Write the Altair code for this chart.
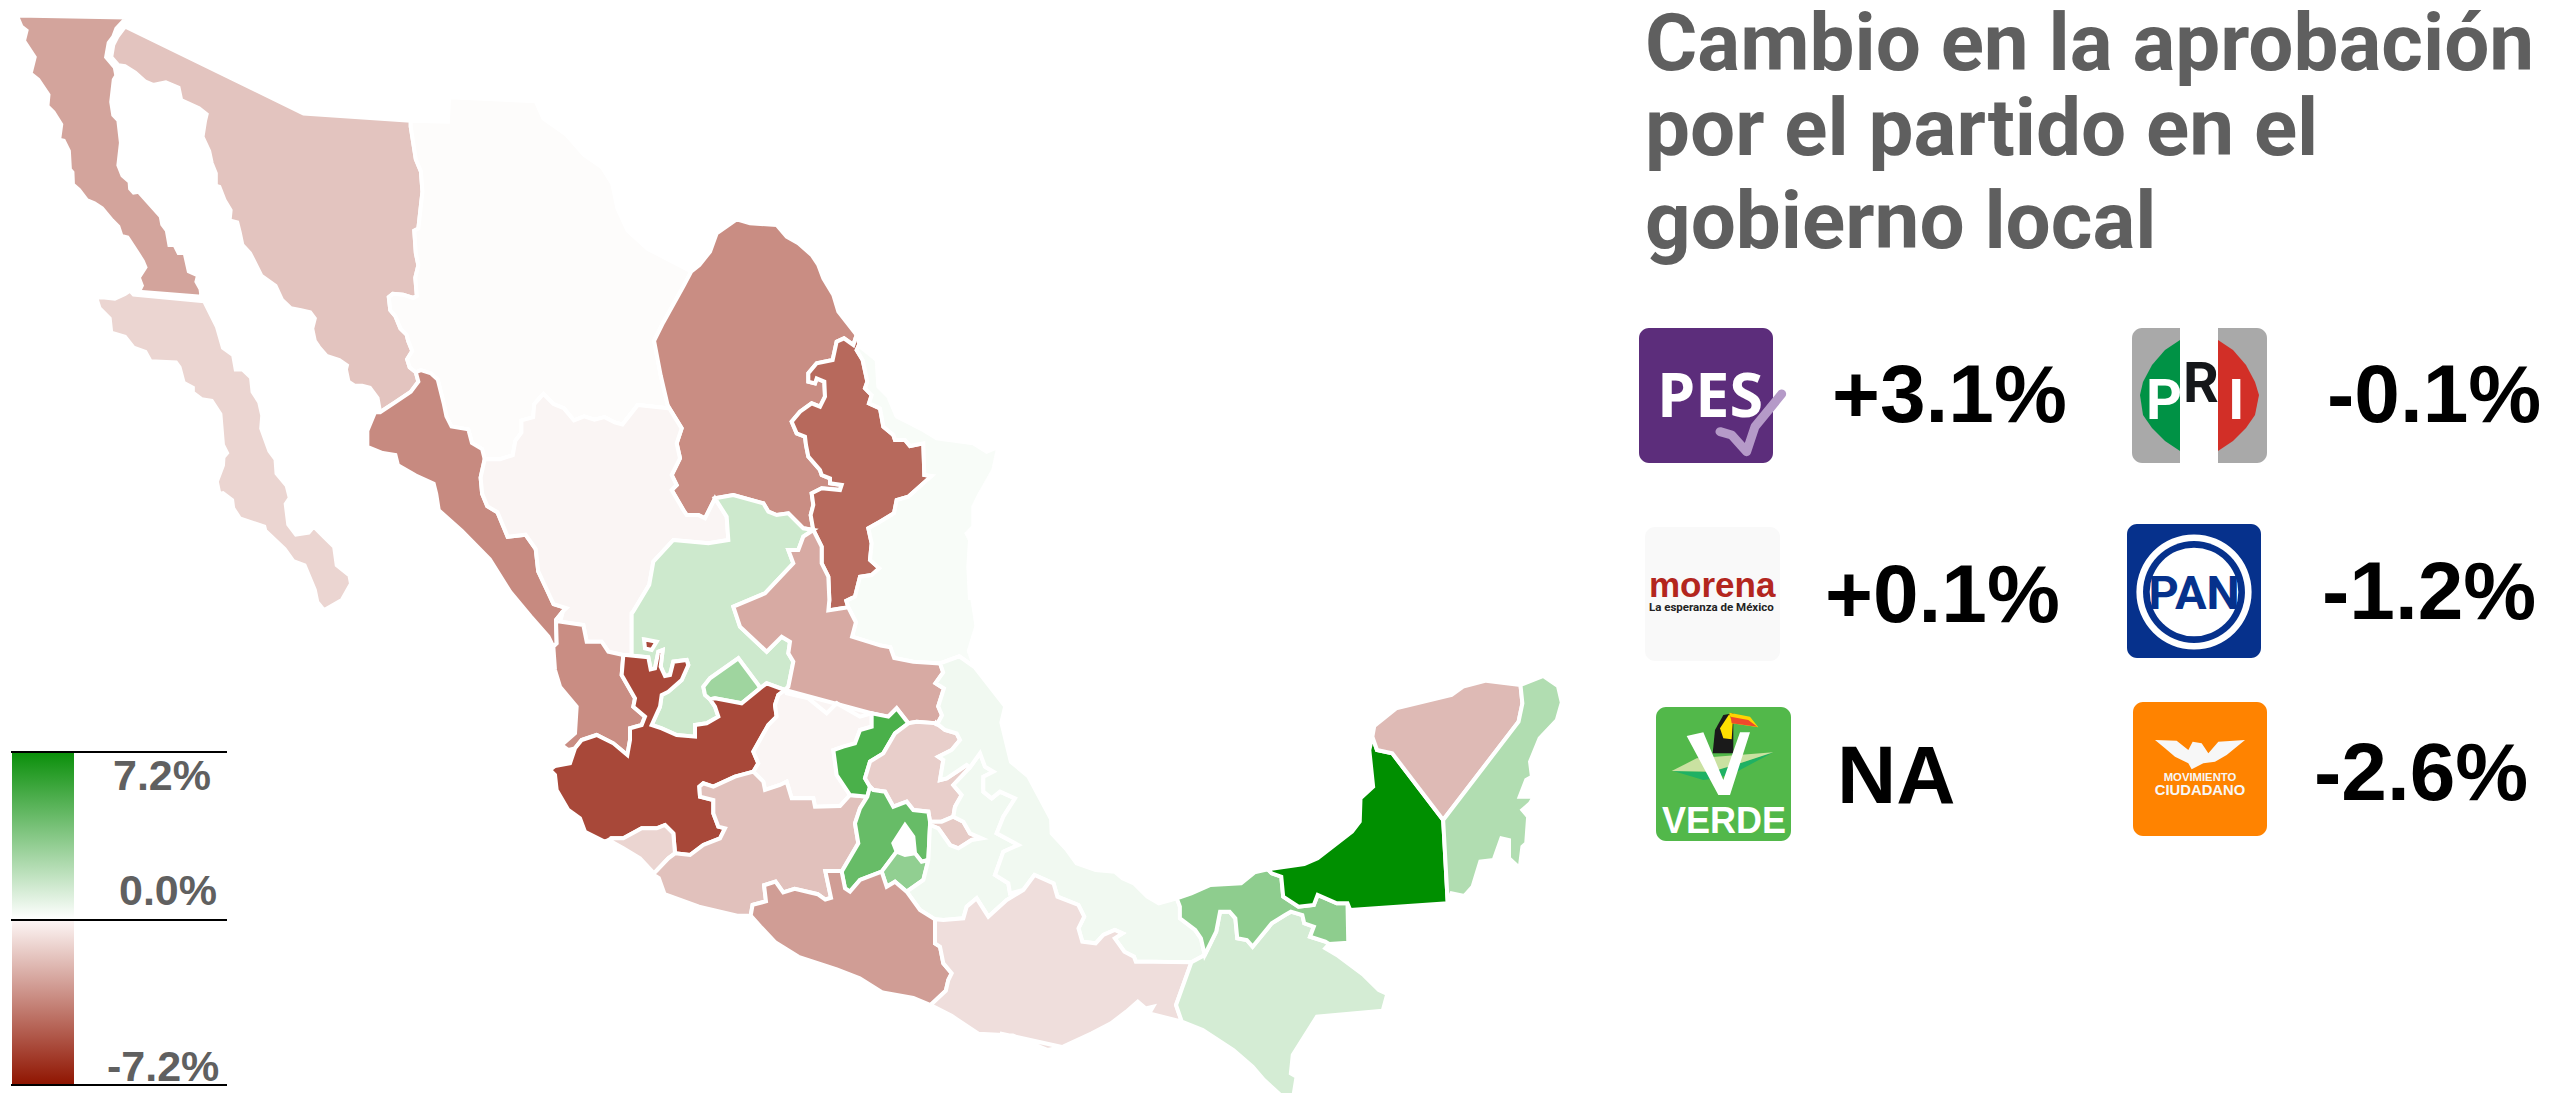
import altair as alt

def T(ox, oy, sx, sy):
    return lambda *p: [(ox + x / sx, oy + y / sy) for x, y in p]
T1 = T(0, 0, 1.96, 2.45)
T2 = T(500, 540, 2.613, 2.795)
T3 = T(1000, 640, 2.613, 3)
T7 = T(640, 200, 3, 3)
T8 = T(780, 680, 3, 3)
T9 = T(540, 600, 3, 3)
rev = lambda a: a[::-1]
def ring(*arcs):
    out = []
    for a in arcs:
        out += a
    return out + [out[0]]

# ---- shared borders between states, in reference pixels -------------------
son_chi = T1((805,296),(805,310),(815,390),(825,420),(828,470),(820,560),(812,565),(815,620),(820,650),(814,680),(817,725),(810,730),(790,722),(770,720),(762,728),(765,760),(775,775),(785,805),(797,820),(800,835),(808,860),(798,880),(803,900),(815,912))
son_sin = T1((815,912),(820,935),(805,960),(775,985),(745,1010))
chi_coa = T1((1355,665),(1340,700),(1300,790),(1282,835),(1295,920),(1310,1000))
chi_dur = T1((1310,1000),(1250,992),(1220,1040),(1205,1035),(1185,1022),(1165,1028),(1145,1020),(1125,1030),(1105,1000),(1085,990),(1065,965),(1047,990),(1045,1022),(1022,1030),(1022,1060),(1010,1080),(1005,1115),(980,1125),(950,1125))
chi_sin = T1((950,1125),(945,1100),(925,1085),(918,1052),(885,1045),(875,1020),(870,990),(858,930),(845,915),(825,907),(815,912))
chi_north = T1((805,296),(878,298),(880,238),(1050,248),(1065,290),(1110,330),(1145,380),(1180,410),(1200,450),(1210,510),(1230,565),(1270,610),(1355,665))
dur_sin = T1((950,1125),(942,1170),(945,1210),(955,1240),(975,1255),(995,1315),(1030,1310),(1050,1345),(1055,1400),(1070,1440),(1085,1480),(1110,1490))
sin_nay = T9((68,35),(48,60),(50,130),(40,140))
sin_coast = T1((1075,1560),(1040,1510),(1000,1450),(960,1370),(905,1300),(860,1250),(855,1210),(850,1185),(815,1165),(780,1140),(775,1115),(750,1110),(720,1095),(720,1055),(735,1010),(745,1010))
coa_north = T7((178,195),(210,155),(230,100),(290,58),(330,70),(410,75),(440,110),(475,130),(515,165),(535,195),(550,235),(580,285),(595,335),(650,405))
coa_nl = T7((650,405),(640,435),(612,415),(590,425),(578,480),(530,490),(505,520),(505,545),(525,550),(530,535),(553,545),(555,590),(540,620),(515,610),(480,635),(455,665),(470,700),(495,710),(498,735),(505,770),(540,810),(545,825),(570,835),(570,850),(605,855),(600,870),(545,865),(515,880),(520,915),(512,945),(520,990))
coa_dur = T7((85,620),(125,685),(110,730),(120,775),(95,825),(110,855),(95,870),(130,930),(140,945),(175,945),(195,955),(225,895))
coa_zac = T7((225,895),(280,885),(370,910),(385,935),(410,945),(445,940),(490,985),(520,990))
nl_tam = T7((650,405),(662,423),(650,450),(668,480),(682,545),(675,565),(695,585),(687,610),(720,625),(730,680),(760,705),(765,720),(795,720),(810,738),(850,730),(853,825),(875,828),(805,890),(770,900),(762,940),(720,965),(685,985),(695,1030),(690,1080),(718,1105),(695,1125),(660,1130),(645,1190)) + T2((905,170),(910,188))
nl_slp = T7((520,990),(545,1040),(545,1090),(565,1130),(568,1200)) + T2((858,197),(910,188))
tam_slp = T2((910,188),(930,230),(920,270),(995,295),(1020,300),(1030,330),(1080,340),(1150,345))
tam_ver = T2((1150,345),(1200,325),(1240,355))
tam_coast = T7((660,440),(710,480),(715,560),(745,590),(770,650),(850,690),(890,715),(1000,730),(1040,755),(1075,740),(1060,810),(1020,880),(1000,920),(1000,980),(980,1000),(990,1020),(985,1100),(990,1200)) + T2((1225,100),(1245,240),(1225,310),(1240,355))
slp_ver = T2((1150,345),(1158,370),(1138,400),(1160,415),(1145,465),(1155,490),(1140,520))
slp_hid = T8((470,130),(410,125),(385,130))
slp_qro = T8((385,130),(350,85),(325,110),(275,100))
slp_gto = T8((275,100),(240,110),(170,70),(140,100),(85,55),(20,40)) + T9((735,270))
zac_slp = T9((735,270),(745,260),(760,185),(745,160),(750,125),(725,110),(680,155),(600,80),(580,20)) + T7((375,1180),(460,1090),(445,1050),(475,1050),(490,1010),(520,990))
dur_zac = T7((225,895),(260,950),(265,1020),(205,1030),(100,1020),(40,1085)) + T2((390,125),(348,200)) + T9((275,40),(275,165))
dur_nay = T9((250,165),(205,155),(185,125),(140,125),(130,75),(60,65),(68,35))
nay_jal = T9((250,165),(245,225),(285,295),(280,320),(315,350),(305,375),(270,385),(270,420),(262,465),(220,430),(170,405),(125,420),(105,445))
nay_coast = T9((105,445),(85,450),(65,435),(105,400),(110,320),(60,260),(45,210),(40,140))
zac_jal = T9((258,165),(325,172),(332,208),(345,205),(355,155),(368,150),(362,200),(375,228),(390,225),(400,185),(440,180),(445,195),(425,240),(385,275),(365,285),(360,320),(335,375),(365,385),(410,405),(465,410),(465,375),(500,370),(535,350),(525,320),(510,298))
jal_island = T9((312,118),(350,125),(335,150),(315,145))
ags_jal = T9((510,298),(525,295),(605,310),(660,265))
ags_zac = T9((660,265),(655,255),(595,175),(510,235),(490,260),(495,285),(510,298))
zac_jal2 = T9((660,265),(680,250),(735,270))
jal_gto = T9((735,270),(715,285),(705,315),(710,350),(685,375),(640,455),(655,490),(640,515))
jal_mich = T9((640,515),(585,530),(520,560),(490,550),(478,560),(480,590),(520,600),(520,640),(535,680),(555,685),(540,715),(490,735),(450,765),(405,760))
jal_col = T9((405,760),(400,700),(375,675),(350,685),(305,685),(250,715),(215,715))
jal_coast = T9((215,715),(195,725),(135,695),(120,655),(85,630),(50,570),(45,525),(30,510),(45,498),(90,490),(105,445))
col_coast = T9((215,725),(250,745),(300,775),(342,820))
mich_col = T9((342,820),(385,775),(405,760))
gto_mich = T9((640,515),(670,545),(675,570),(720,555)) + T8((20,305),(35,355),(100,355),(105,380),(180,378),(210,345))
gto_qro = T8((275,100),(275,140),(240,150),(225,190),(190,200),(160,210),(170,285),(210,345))
qro_mich = T8((210,345),(262,350))
qro_hid = T8((270,320),(255,295),(270,245),(310,220),(345,160),(385,130))
mex_mich = T8((262,350),(240,385),(225,430),(235,490),(185,575))
mich_gro = T2((890,925),(850,925),(865,1000),(850,1005),(830,990),(770,975),(740,985),(720,955),(690,965),(695,1010),(660,1020),(655,1050))
mich_coast = T2((655,1050),(620,1050),(520,1025),(430,990),(415,945),(400,935))
mex_gro = T8((185,575),(195,625),(210,635),(240,600),(305,575))
gro_mor = T8((305,575),(320,620),(345,605),(380,635))
gro_pue = T8((380,635),(420,690),(465,718))
gro_oax = T8((465,718),(465,790),(480,800),(490,850),(515,880),(505,900)) + T2((1165,1260),(1125,1300))
gro_coast = T2((1125,1300),(1080,1280),(1000,1265),(940,1225),(880,1200),(780,1165),(720,1125),(680,1080),(655,1050))
hid_mex = T8((280,330),(315,335),(340,380),(380,365),(400,390),(445,395),(450,425))
hid_ver = T8((470,130),(495,150),(530,160),(540,180),(515,210),(475,230),(490,240),(480,300),(500,295),(560,255),(570,262))
hid_pue = T8((570,262),(520,315),(545,345),(525,380),(520,410))
hid_tlax = T8((450,425),(485,425),(520,410))
tlax_pue = T8((520,410),(550,425),(570,460),(605,475),(575,480),(535,505),(510,495),(475,445),(450,435))
pue_mex = T8((450,435),(445,540))
pue_mor = T8((445,540),(440,560),(430,600),(380,635))
pue_ver = T8((570,262),(600,220),(615,260),(640,275),(610,290),(610,335),(635,355),(660,335),(705,355),(670,410),(650,460),(715,495),(670,515),(645,585),(685,610),(690,640),(730,630))
oax_pue = T8((465,718),(490,720),(550,715),(560,680),(590,655),(625,710),(680,660),(730,630))
ver_oax = T8((730,630),) + T3((90,705),(140,730),(150,770),(205,795),(220,830),(205,865),(215,905),(250,910),(270,885),(300,870),(320,880),(300,895),(325,935),(350,950),(355,965),(400,965),(500,967))
oax_chi = T3((500,967),(460,1095),(475,1145))
oax_coast = T3((475,1145),(390,1120),(400,1100),(380,1105),(360,1085),(330,1115),(290,1150),(240,1180),(165,1220),(125,1230),(70,1210),(30,1190),(0,1180)) + T2((1480,1420),(1430,1425),(1340,1385),(1250,1380),(1180,1330),(1125,1300))
ver_chi = T3((500,967),(535,945))
ver_tab = T3((535,945),(525,895),(510,870),(470,835),(470,800),(462,775))
ver_coast = T2((1240,355),(1320,465),(1310,510),(1335,620),(1380,660),(1440,780)) + T3((135,580),(175,630),(200,670),(250,690),(300,695),(320,715),(350,730),(385,770),(415,790),(462,775))
chi_tab = T3((535,945),(565,875),(575,815),(600,815),(615,835),(620,895),(645,900),(660,920),(710,850),(745,825),(760,815),(790,825),(795,850),(820,860),(810,890),(850,905),(860,912))
chi_coast = T3((860,912),(850,925),(880,945),(950,1005),(990,1050),(1012,1062),(1000,1112),(828,1130),(765,1245),(760,1300),(775,1310),(765,1380),(750,1383),(690,1320),(660,1280),(610,1230),(530,1170),(475,1145))
tab_cam = T3((910,908),(908,790),(880,790),(830,765),(820,795),(780,800),(740,770),(735,710),(710,700),(700,688))
tab_coast = T3((700,688),(665,697),(630,730),(550,735),(500,760),(462,775))
cam_coast = T3((700,688),(795,672),(830,655),(920,575),(940,545),(942,475),(975,440),(965,330),(973,290))
cam_yuc = T3((973,290),(985,330),(1025,340),(1158,540))
yuc_qro = T3((1158,540),(1355,245),(1365,190),(1360,135))
yuc_coast = T3((1360,135),(1270,122),(1210,140),(1180,165),(1035,205),(978,258))
qro_coast = T3((1360,135),(1420,108),(1458,138),(1468,188),(1455,240),(1410,295),(1385,365),(1390,410),(1375,420),(1358,470),(1395,470),(1385,490),(1365,510),(1380,530),(1375,610),(1365,620),(1358,685),(1330,655),(1330,600),(1310,595),(1290,660),(1255,665),(1235,740),(1213,768),(1180,760),(1170,790))

baja = T1((33,38),(42,65),(52,75),(47,100),(68,140),(60,180),(75,195),(95,232),(93,260),(105,275),(120,305),(116,342),(125,345),(135,370),(137,415),(142,422),(143,452),(155,465),(170,490),(185,498),(200,510),(220,540),(232,555),(238,578),(250,582),(262,605),(270,620),(280,640),(285,655),(272,680),(278,700),(272,715),(395,727),(393,708),(385,690),(388,675),(370,665),(362,620),(350,620),(342,600),(332,600),(327,565),(318,550),(315,530),(272,470),(262,472),(255,462),(254,445),(240,430),(232,405),(237,350),(232,295),(222,282),(218,250),(223,195),(228,185),(225,165),(208,140),(213,105),(222,90),(228,70),(248,43))
bcs = T1((175,730),(190,735),(195,755),(215,780),(218,815),(245,825),(262,852),(285,862),(295,885),(345,888),(352,900),(360,938),(378,950),(378,962),(395,978),(415,982),(432,1015),(437,1090),(445,1110),(438,1120),(437,1140),(425,1180),(430,1210),(437,1208),(455,1225),(457,1245),(470,1270),(518,1290),(520,1300),(558,1345),(575,1375),(597,1385),(617,1445),(622,1475),(635,1495),(670,1470),(688,1430),(685,1410),(660,1385),(655,1340),(635,1315),(615,1290),(605,1305),(580,1310),(565,1285),(560,1235),(568,1220),(562,1190),(542,1160),(540,1125),(528,1105),(512,1050),(514,1018),(508,985),(495,960),(492,925),(475,905),(462,905),(457,870),(437,852),(425,800),(400,738),(262,722),(255,712),(245,720),(225,732),(200,728))
son_coast = T1((745,1010),(740,975),(725,950),(710,945),(695,945),(683,935),(678,905),(680,895),(665,882),(640,872),(625,850),(617,835),(612,805),(617,780),(608,765),(590,760),(570,755),(553,735),(540,700),(512,675),(500,645),(490,620),(475,600),(470,570),(465,545),(450,540),(452,515),(440,490),(430,458),(423,455),(423,425),(415,400),(410,370),(397,335),(402,295),(405,280),(390,265),(355,245),(350,215),(325,202),(300,208),(285,200),(265,178),(245,162),(232,160),(218,140),(222,110),(230,90),(245,65),(595,278))

mex_ring = hid_mex + pue_mex + T8((425,545),(405,520),(400,470),(375,435),(340,490),(350,515)) + rev(mex_gro) + rev(mex_mich) + T8((270,320))

# state, change in approval (%), outline(s)
states = [
    ("Baja California", -2.8, [ring(baja)]),
    ("Baja California Sur", -1.3, [ring(bcs)]),
    ("Sonora", -1.8, [ring(son_chi, son_sin, son_coast)]),
    ("Chihuahua", -0.1, [ring(chi_north, chi_coa, chi_dur, chi_sin, rev(son_chi))]),
    ("Sinaloa", -3.6, [ring(rev(chi_sin), dur_sin, sin_nay, sin_coast, rev(son_sin))]),
    ("Coahuila", -3.5, [ring(rev(chi_coa), coa_north, coa_nl, rev(coa_zac), rev(coa_dur))]),
    ("Nuevo León", -4.6, [ring(coa_nl, nl_slp, rev(nl_tam))]),
    ("Tamaulipas", 0.2, [ring(nl_tam, tam_slp, tam_ver, rev(tam_coast))]),
    ("Durango", -0.3, [ring(rev(chi_dur), coa_dur, dur_zac, dur_nay, rev(dur_sin))]),
    ("Zacatecas", 1.4, [ring(coa_zac, rev(zac_slp), rev(zac_jal2), ags_zac, rev(zac_jal), rev(dur_zac))]),
    ("San Luis Potosí", -2.6, [ring(nl_slp, tam_slp, slp_ver, slp_hid, slp_qro, slp_gto, zac_slp)]),
    ("Nayarit", -3.5, [ring(rev(dur_nay), nay_jal, nay_coast, rev(sin_nay))]),
    ("Aguascalientes", 2.7, [ring(ags_jal, ags_zac)]),
    ("Jalisco", -5.6, [ring(zac_jal, ags_jal, zac_jal2, jal_gto, jal_mich, jal_col, jal_coast, rev(nay_jal)), ring(jal_island)]),
    ("Colima", -1.3, [ring(jal_col, col_coast, mich_col)]),
    ("Guanajuato", -0.3, [ring(jal_gto, gto_mich, rev(gto_qro), rev(slp_gto))]),
    ("Michoacán", -1.9, [ring(gto_mich, qro_mich, mex_mich, mich_gro, mich_coast, mich_col, rev(jal_mich))]),
    ("Querétaro", 5.1, [ring(slp_qro, gto_qro, qro_mich, qro_hid)]),
    ("Hidalgo", -1.5, [ring(rev(slp_hid), hid_ver, hid_pue, rev(hid_tlax), rev(hid_mex), qro_hid)]),
    ("México", 4.3, [ring(mex_ring)]),
    ("Morelos", 3.1, [ring(T8((305,575),(350,515),(375,525),(405,520),(425,545)), pue_mor, rev(gro_mor))]),
    ("Tlaxcala", -1.6, [ring(hid_tlax, tlax_pue)]),
    ("Puebla", 0.4, [ring(hid_pue, tlax_pue, pue_mor, gro_pue, oax_pue, rev(pue_ver))]),
    ("Veracruz", 0.4, [ring(tam_ver, ver_coast, rev(ver_tab), rev(ver_chi), rev(ver_oax), rev(pue_ver), rev(hid_ver), rev(slp_ver))]),
    ("Guerrero", -3.0, [ring(rev(mich_gro), mex_gro, gro_mor, gro_pue, gro_oax, gro_coast)]),
    ("Oaxaca", -1.0, [ring(oax_pue, ver_oax, oax_chi, oax_coast, rev(gro_oax))]),
    ("Chiapas", 1.2, [ring(ver_chi, chi_tab, chi_coast, rev(oax_chi))]),
    ("Tabasco", 3.2, [ring(rev(tab_coast), rev(tab_cam), rev(chi_tab), ver_tab)]),
    ("Campeche", 7.2, [ring(cam_coast, cam_yuc, T3((1170,790),(915,810)), tab_cam[1:])]),
    ("Yucatán", -2.1, [ring(cam_yuc, yuc_qro, yuc_coast)]),
    ("Quintana Roo", 2.2, [ring(qro_coast, yuc_qro)]),
]

title_lines = ["Cambio en la aprobación", "por el partido en el", "gobierno local"]
title_x = [1645, 1645, 1645]
title_y = [70, 155, 248]
value_labels = ["+3.1%", "-0.1%", "+0.1%", "-1.2%", "NA", "-2.6%"]
value_x = [1832, 2327, 1825, 2322, 1837, 2314]
value_y = [422, 422, 622, 619, 803, 800]
legend_labels = ["7.2%", "0.0%", "-7.2%"]
legend_x = [113, 119, 107]
legend_y = [790, 905, 1081]
legend_rule_y = [752, 920, 1085]

logo_names = ["PES", "PRI", "Morena", "PAN", "Verde", "MC"]
logo_x = [1639, 2132, 1645, 2127, 1656, 2133]
logo_x2 = [1773, 2267, 1780, 2261, 1791, 2267]
logo_y = [328, 328, 527, 524, 707, 702]
logo_y2 = [463, 463, 661, 658, 841, 836]
logo_fill = ["#5c2d7b", "#a9a9a9", "#f9f9f9", "#06318c", "#52b84a", "#ff8300"]

WIDTH, HEIGHT = 2556, 1085
X = alt.X("x:Q", scale=alt.Scale(domain=[8, 2564], nice=False, zero=False), axis=None)
Y = alt.Y("y:Q", scale=alt.Scale(domain=[1093, 8], nice=False, zero=False), axis=None)
X2 = alt.X2("x2:Q")
Y2 = alt.Y2("y2:Q")
PROJ = dict(type="identity", scale=1, translate=[-8, -8])

def feat(rings, **props):
    return {"type": "Feature", "properties": props,
            "geometry": {"type": "MultiPolygon",
                         "coordinates": [[[list(p) for p in r]] for r in rings]}}

def text(rows, font, size, color, weight="bold", align="left"):
    return alt.Chart(alt.Data(values=[{"x": x, "y": y, "t": t} for x, y, t in rows])).mark_text(
        font=font, fontSize=size, fontWeight=weight, color=color, align=align, baseline="alphabetic"
    ).encode(x=X, y=Y, text="t:N")

map_layer = alt.Chart(alt.Data(values=[feat(r, name=n, value=v) for n, v, r in states])).mark_geoshape(
    stroke="white", strokeWidth=4
).encode(
    color=alt.Color("properties.value:Q", legend=None,
                    scale=alt.Scale(domain=[-7.2, 0, 7.2], range=["#8f1400", "#ffffff", "#008f00"],
                                    interpolate="rgb"))
).project(**PROJ)

def grad(stops):
    return alt.Gradient(gradient="linear", x1=0, x2=0, y1=0, y2=1,
                        stops=[alt.GradientStop(color=c, offset=o) for o, c in stops])

legend_green = alt.Chart(alt.Data(values=[{"x": 12, "x2": 74, "y": 752, "y2": 919}])).mark_rect(
    color=grad([(0, "#0a8f0a"), (1, "#ffffff")])).encode(x=X, x2=X2, y=Y, y2=Y2)
legend_red = alt.Chart(alt.Data(values=[{"x": 12, "x2": 74, "y": 920, "y2": 1085}])).mark_rect(
    color=grad([(0, "#fdf6f5"), (1, "#8f1400")])).encode(x=X, x2=X2, y=Y, y2=Y2)
legend_rules = alt.Chart(alt.Data(values=[{"x": 11, "x2": 227, "y": y} for y in legend_rule_y])).mark_rule(
    color="black", strokeWidth=2).encode(x=X, x2=X2, y=Y)

logo_rects = [alt.Chart(alt.Data(values=[{"x": a, "x2": b, "y": c, "y2": d}])).mark_rect(
    cornerRadius=10, color=e).encode(x=X, x2=X2, y=Y, y2=Y2)
    for a, b, c, d, e in zip(logo_x, logo_x2, logo_y, logo_y2, logo_fill)]

# logo artwork
pri_white = [(2180, 328), (2218, 328), (2218, 463), (2180, 463)]
pri_green = [(2180, 340), (2165, 350), (2152, 365), (2143, 382), (2140, 395), (2143, 415), (2152, 428), (2165, 441), (2180, 451)]
pri_red = [(2218, 340), (2233, 350), (2246, 365), (2255, 382), (2259, 395), (2255, 415), (2246, 428), (2233, 441), (2218, 451)]
T11 = T(1640, 700, 3, 3)
verde_leaf = T11((95,213),(170,175),(400,157),(300,190),(215,215))
verde_leaf2 = T11((100,213),(190,240),(230,235),(290,215),(400,157),(300,190),(215,215))
verde_body = T11((218,160),(225,90),(250,45),(280,40),(280,160))
verde_face = T11((240,85),(268,42),(278,70),(275,118),(250,115))
verde_beak = T11((268,38),(330,50),(355,82),(275,70))
verde_beak_red = T11((272,50),(325,60),(352,80),(275,70))
verde_v = T11((140,108),(190,97),(250,240),(300,97),(330,97),(270,285),(235,285))
T12 = T(2120, 510, 3, 3)
mc_bird = T12((105,690),(170,692),(205,720),(218,695),(245,700),(265,730),(295,695),(375,690),(320,735),(285,755),(250,760),(215,778),(205,760),(165,740),(135,715))
logo_shapes = [
    (pri_white, "#ffffff"), (pri_green, "#009245"), (pri_red, "#d22f27"),
    (verde_leaf2, "#1fb163"), (verde_leaf, "#c9e1a1"), (verde_body, "#1a1a1a"),
    (verde_face, "#ffe000"), (verde_beak, "#ffd400"), (verde_beak_red, "#ee4a2c"),
    (verde_v, "#ffffff"), (mc_bird, "#f7f7f7"),
]
logo_art = [alt.Chart(alt.Data(values=[feat([ring(p)])])).mark_geoshape(
    strokeWidth=0, fill=c, stroke=None).project(**PROJ) for p, c in logo_shapes]

pan_rings = [alt.Chart(alt.Data(values=[{"x": 2194, "y": 592}])).mark_circle(
    opacity=1, size=s, color=c).encode(x=X, y=Y)
    for s, c in [(13273, "#ffffff"), (10387, "#06318c"), (7854, "#ffffff")]]

T10 = T(1630, 320, 3, 3)
pes_check = alt.Chart(alt.Data(values=[{"x": x, "y": y, "i": i} for i, (x, y) in enumerate(
    T10((270,335),(305,345),(350,395),(375,320),(455,222)))])).mark_line(
    color="#b59ac8", strokeWidth=9, strokeCap="round", strokeJoin="round").encode(x=X, y=Y, order="i:Q")

SANS = "Liberation Sans"
chart = alt.layer(
    map_layer, legend_green, legend_red, legend_rules,
    *logo_rects, *logo_art, *pan_rings, pes_check,
    text(list(zip(title_x, title_y, title_lines)), "Roboto", 80, "#5f5f5f"),
    text(list(zip(value_x, value_y, value_labels)), SANS, 82, "#000000"),
    text(list(zip(legend_x, legend_y, legend_labels)), SANS, 43, "#606060"),
    text([(1657, 417, "PES")], "Open Sans", 61, "#ffffff"),
    text([(2146, 419, "P"), (2228, 419, "I")], "Roboto", 56, "#ffffff"),
    text([(2183, 402, "R")], "Roboto", 56, "#15171a"),
    text([(1649, 597, "morena")], SANS, 35, "#b3261e"),
    text([(1649, 611, "La esperanza de México")], "Roboto", 11.5, "#222222"),
    text([(2194, 609, "PAN")], "Roboto", 47, "#06318c", align="center"),
    text([(1724, 833, "VERDE")], SANS, 36, "#ffffff", align="center"),
    text([(2200, 781, "MOVIMIENTO")], SANS, 11.3, "#f7f7f7", align="center"),
    text([(2200, 795, "CIUDADANO")], SANS, 14.8, "#f7f7f7", align="center"),
).properties(width=WIDTH, height=HEIGHT, padding=0, autosize=alt.AutoSizeParams(type="none"),
             background="white").configure_view(stroke=None)

chart.save("out.html", embed_options={"renderer": "svg", "actions": False})
